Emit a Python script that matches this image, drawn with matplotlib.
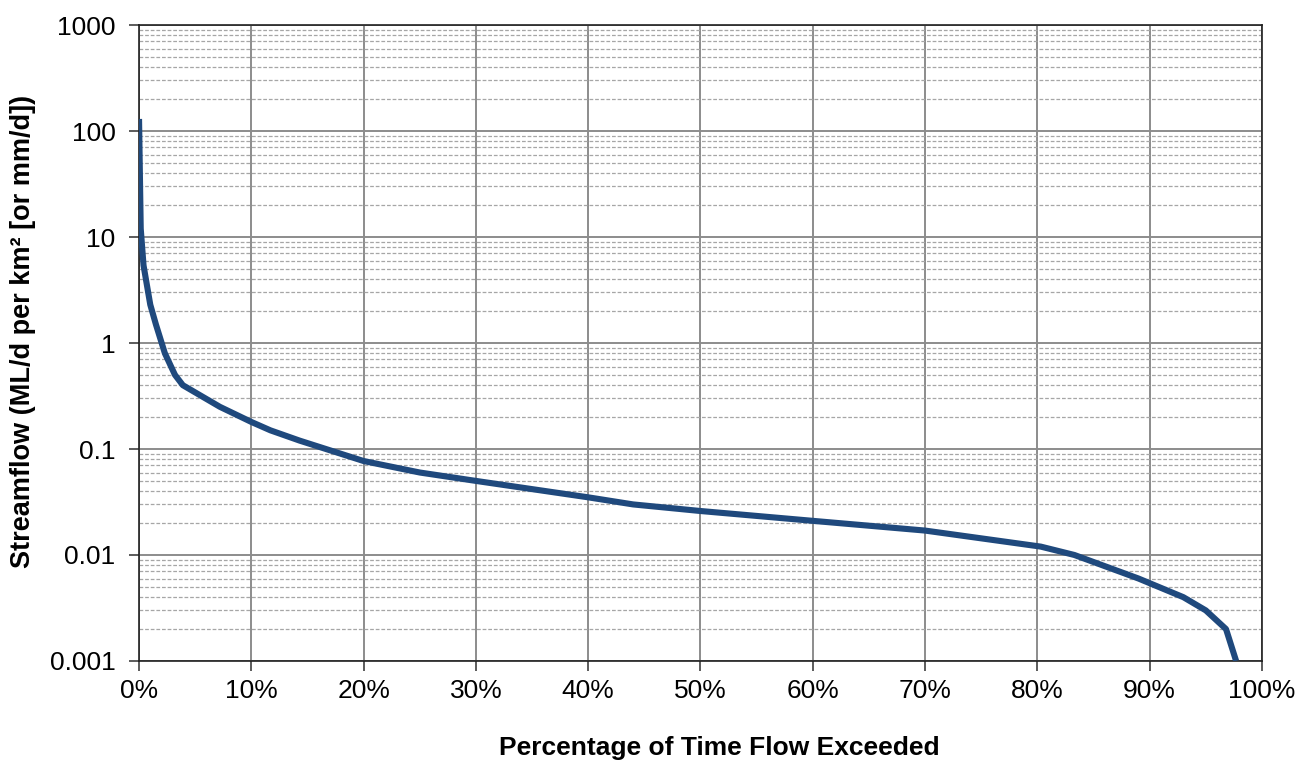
import matplotlib
matplotlib.use("Agg")
import matplotlib.pyplot as plt
from matplotlib.ticker import FixedLocator, FixedFormatter, LogLocator, NullFormatter

plt.rcParams['font.family'] = ['Liberation Sans', 'DejaVu Sans']

# Flow duration curve data (percent exceeded, streamflow ML/d per km2)
pct_exceeded = [0.0, 0.15, 0.4, 1.0, 1.5, 2.3, 3.2, 3.9, 7.2, 10.0, 11.7, 14.3,
                20.0, 25.0, 30.0, 40.0, 44.0, 50.0, 60.0, 70.0, 80.3, 83.3,
                89.0, 93.0, 95.0, 96.8, 97.7]
streamflow = [130, 12, 5.4, 2.3, 1.5, 0.8, 0.5, 0.4, 0.25, 0.18, 0.15, 0.12,
              0.077, 0.06, 0.05, 0.035, 0.03, 0.026, 0.021, 0.017, 0.012, 0.01,
              0.006, 0.004, 0.003, 0.002, 0.001]

x_ticks = [0, 10, 20, 30, 40, 50, 60, 70, 80, 90, 100]
x_labels = [f"{v}%" for v in x_ticks]
y_ticks = [0.001, 0.01, 0.1, 1, 10, 100, 1000]
y_labels = ["0.001", "0.01", "0.1", "1", "10", "100", "1000"]

fig = plt.figure(figsize=(13.08, 7.63), dpi=100)
ax = fig.add_axes([0.1063, 0.1337, 0.8585, 0.8335])

ax.plot(pct_exceeded, streamflow, color='#1F497D', lw=4.4, solid_capstyle='butt', zorder=3)

ax.set_yscale('log')
ax.set_xlim(0, 100)
ax.set_ylim(0.001, 1000)

ax.xaxis.set_major_locator(FixedLocator(x_ticks))
ax.xaxis.set_major_formatter(FixedFormatter(x_labels))
ax.yaxis.set_major_locator(FixedLocator(y_ticks))
ax.yaxis.set_major_formatter(FixedFormatter(y_labels))
ax.yaxis.set_minor_locator(LogLocator(base=10, subs=range(2, 10), numticks=20))
ax.yaxis.set_minor_formatter(NullFormatter())

ax.grid(which='major', axis='both', color='#8c8c8c', lw=1.4, ls='-', zorder=1)
ax.grid(which='minor', axis='y', color='#a6a6a6', lw=0.9, ls=(0, (3, 1.5)), zorder=1)

ax.tick_params(axis='both', which='major', direction='out', length=7, width=1.2,
               labelsize=19, color='#404040')
ax.tick_params(axis='y', which='major', pad=10)
ax.tick_params(axis='x', which='major', pad=6)
ax.tick_params(axis='y', which='minor', length=0)

for s in ax.spines.values():
    s.set_color('#202020')
    s.set_linewidth(1.2)

ax.set_xlabel('Percentage of Time Flow Exceeded', fontsize=19, fontweight='bold', labelpad=22)
ax.xaxis.set_label_coords(0.517, -0.118)
ax.set_ylabel('Streamflow (ML/d per km² [or mm/d])', fontsize=19.5, fontweight='bold', labelpad=14)
ax.yaxis.set_label_coords(-0.092, 0.518)

fig.savefig('out.png', dpi=100)
